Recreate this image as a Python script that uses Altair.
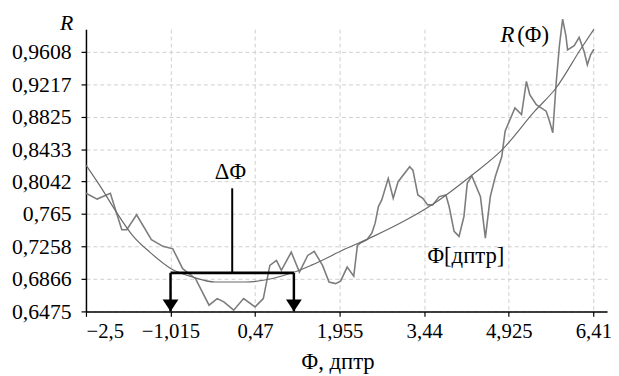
import altair as alt
import pandas as pd

# Measured curve R(Phi) (noisy)
phi_noisy = [-2.5, -2.304, -2.072, -1.871, -1.784, -1.611, -1.351, -1.148, -0.975, -0.802,
             -0.576, -0.339, -0.195, -0.079, 0.094, 0.268, 0.469, 0.614, 0.729, 0.845,
             0.931, 1.105, 1.248, 1.394, 1.508, 1.654, 1.768, 1.884, 1.971, 2.087,
             2.202, 2.266, 2.318, 2.434, 2.520, 2.578, 2.635, 2.694, 2.808, 2.895,
             2.981, 3.184, 3.241, 3.328, 3.415, 3.501, 3.588, 3.704, 3.820, 3.877,
             3.964, 4.051, 4.137, 4.195, 4.276, 4.427, 4.513, 4.600, 4.687, 4.801,
             4.860, 5.033, 5.148, 5.234, 5.293, 5.408, 5.581, 5.640, 5.697, 5.754,
             5.813, 5.870, 5.928, 5.957, 6.073, 6.160, 6.247, 6.304, 6.361, 6.420]
r_noisy = [0.790, 0.783, 0.790, 0.746, 0.746, 0.764, 0.734, 0.726, 0.723, 0.699,
           0.687, 0.655, 0.663, 0.659, 0.649, 0.663, 0.653, 0.663, 0.703, 0.709,
           0.697, 0.719, 0.695, 0.715, 0.720, 0.703, 0.683, 0.681, 0.684, 0.701,
           0.690, 0.727, 0.730, 0.734, 0.742, 0.754, 0.774, 0.782, 0.808, 0.784,
           0.804, 0.822, 0.818, 0.788, 0.784, 0.776, 0.776, 0.786, 0.788, 0.774,
           0.744, 0.738, 0.762, 0.802, 0.811, 0.786, 0.736, 0.786, 0.810, 0.834,
           0.865, 0.893, 0.885, 0.925, 0.909, 0.897, 0.889, 0.877, 0.863, 0.921,
           0.968, 1.000, 0.980, 0.963, 0.968, 0.978, 0.961, 0.945, 0.957, 0.964]

# Smooth fitted curve
phi_fit = [-2.5, -2.245, -1.963, -1.668, -1.379, -1.004, -0.628, -0.230, 0.295, 1.162,
           1.451, 2.058, 2.548, 3.127, 3.704, 4.281, 4.801, 5.380, 5.754, 6.188, 6.420]
r_fit = [0.824, 0.798, 0.767, 0.738, 0.719, 0.699, 0.689, 0.683, 0.683, 0.695,
         0.703, 0.723, 0.738, 0.758, 0.782, 0.812, 0.842, 0.889, 0.917, 0.964, 0.988]

x_ticks = [-2.5, -1.015, 0.47, 1.955, 3.44, 4.925, 6.41]
y_ticks = [0.6475, 0.6866, 0.7258, 0.765, 0.8042, 0.8433, 0.8825, 0.9217, 0.9608]

# Delta-Phi bracket
bracket_left = -1.015
bracket_right = 1.151
bracket_level = 0.694
stem_x = 0.068
stem_top = 0.796

# Text annotations
ann_text = ["ΔΦ", "Φ[дптр]"]
ann_x = [0.036, 4.172]
ann_y = [0.816, 0.714]
paren_text = ["(Φ)"]
paren_x = [5.073]
paren_y = [0.9807]
rlab_x = [4.900]
rlab_y = [0.9807]

FONT = "Liberation Serif"

xs = alt.Scale(domain=[-2.5, 6.65], nice=False, zero=False)
ys = alt.Scale(domain=[0.6475, 0.988], nice=False, zero=False)

label_expr = "replace(replace(toString(datum.value), '.', ','), '-', '−')"
x_axis = alt.Axis(values=x_ticks, labelExpr=label_expr, title="Φ, дптр",
                  titleX=255, titleY=51, titleAlign="center", titleBaseline="middle",
                  labelPadding=4, labelFont=FONT, labelFontSize=21,
                  titleFont=FONT, titleFontSize=23, titleFontWeight="normal")
y_axis = alt.Axis(values=y_ticks, labelExpr=label_expr, title="R",
                  titleAngle=0, titleX=-20, titleY=-7, titleAlign="center",
                  titleBaseline="middle", titleFontStyle="italic",
                  labelPadding=10, labelFont=FONT, labelFontSize=22,
                  titleFont=FONT, titleFontSize=22, titleFontWeight="normal")


def X(field):
    return alt.X(field, type="quantitative", scale=xs, axis=x_axis)


def Y(field):
    return alt.Y(field, type="quantitative", scale=ys, axis=y_axis)


df_noisy = pd.DataFrame({"phi": phi_noisy, "r": r_noisy, "i": range(len(phi_noisy))})
df_fit = pd.DataFrame({"phi": phi_fit, "r": r_fit, "i": range(len(phi_fit))})

noisy = alt.Chart(df_noisy).mark_line(color="#7d7d7d", strokeWidth=1.6).encode(
    x=X("phi"), y=Y("r"), order="i:Q",
)

fit = alt.Chart(df_fit).mark_line(color="#6a6a6a", strokeWidth=1.2, interpolate="monotone").encode(
    x=X("phi"), y=Y("r"), order="i:Q",
)

df_h = pd.DataFrame({"phi": [bracket_left], "phi2": [bracket_right], "r": [bracket_level]})
hbar = alt.Chart(df_h).mark_rule(color="black", strokeWidth=3).encode(
    x=X("phi"), x2="phi2:Q", y=Y("r"),
)

df_legs = pd.DataFrame({"phi": [bracket_left, bracket_right],
                        "r": [bracket_level, bracket_level],
                        "r2": [0.6475, 0.6475]})
legs = alt.Chart(df_legs).mark_rule(color="black", strokeWidth=2.5).encode(
    x=X("phi"), y=Y("r"), y2="r2:Q",
)

df_heads = pd.DataFrame({"phi": [bracket_left, bracket_right], "r": [0.6475, 0.6475]})
heads = alt.Chart(df_heads).mark_point(
    shape="M-1,-1.5L1,-1.5L0,0Z", filled=True, color="black", opacity=1, size=256
).encode(x=X("phi"), y=Y("r"))

df_stem = pd.DataFrame({"phi": [stem_x], "r": [bracket_level], "r2": [stem_top]})
stem = alt.Chart(df_stem).mark_rule(color="black", strokeWidth=2).encode(
    x=X("phi"), y=Y("r"), y2="r2:Q",
)

df_ann = pd.DataFrame({"t": ann_text, "phi": ann_x, "r": ann_y})
ann_c = alt.Chart(df_ann).mark_text(
    font=FONT, fontSize=23, color="black", align="center", baseline="middle"
).encode(x=X("phi"), y=Y("r"), text="t:N")

df_par = pd.DataFrame({"t": paren_text, "phi": paren_x, "r": paren_y})
ann_l = alt.Chart(df_par).mark_text(
    font=FONT, fontSize=23, color="black", align="left", baseline="middle"
).encode(x=X("phi"), y=Y("r"), text="t:N")

df_r = pd.DataFrame({"t": ["R"], "phi": rlab_x, "r": rlab_y})
rlab = alt.Chart(df_r).mark_text(
    font=FONT, fontSize=23, fontStyle="italic", color="black", align="center", baseline="middle"
).encode(x=X("phi"), y=Y("r"), text="t:N")

chart = alt.layer(noisy, fit, hbar, legs, heads, stem, ann_c, ann_l, rlab).properties(
    width=528, height=286,
    autosize=alt.AutoSizeParams(type="none"),
    padding={"left": 79, "top": 19, "right": 4, "bottom": 62},
    background="white",
).configure_view(stroke=None).configure_axis(
    labelColor="black", titleColor="black",
    domainColor="black", domainWidth=1.5,
    tickColor="black", tickSize=5, tickWidth=1.2,
    gridColor="#cfcfcf", gridDash=[4, 3], gridWidth=1,
).configure_text(font=FONT)

chart.save("out.html", embed_options={"renderer": "svg", "actions": False})
